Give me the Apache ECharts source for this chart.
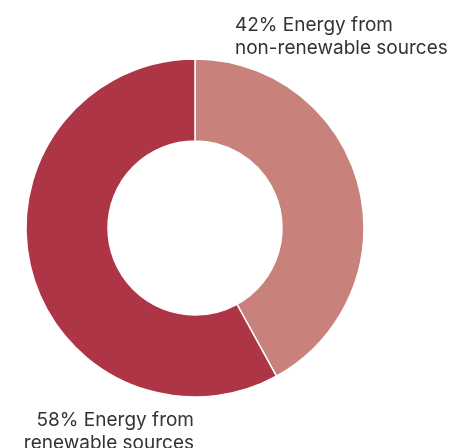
<!DOCTYPE html>
<html><head><meta charset="utf-8">
<script src="https://cdn.jsdelivr.net/npm/echarts@6/dist/echarts.min.js"></script>
<style>html,body{margin:0;padding:0;background:#fff}#c{width:451px;height:448px}</style>
</head><body><div id="c"></div>
<script>
const categories = ["Energy from non-renewable sources", "Energy from renewable sources"];
const labelLines = [["Energy from", "non-renewable sources"], ["Energy from", "renewable sources"]];
const values = [42, 58];
const colors = ["#c9827b", "#ae3546"];

const chart = echarts.init(document.getElementById('c'), null, {renderer: 'canvas'});
const textStyleBase = {fontFamily: 'Inter', fontSize: 19, fill: '#333333', lineHeight: 23};
chart.setOption({
  animation: false,
  series: [{
    type: 'pie',
    center: [195, 228],
    radius: [87, 169],
    startAngle: 90,
    clockwise: true,
    label: {show: false},
    labelLine: {show: false},
    silent: true,
    itemStyle: {borderColor: '#ffffff', borderWidth: 1.5},
    data: categories.map((c, i) => ({name: c, value: values[i], itemStyle: {color: colors[i]}}))
  }],
  graphic: [
    {type: 'text', left: 235, top: 14,
     style: Object.assign({}, textStyleBase, {text: values[0] + '% ' + labelLines[0][0] + '\n' + labelLines[0][1], textAlign: 'left'})},
    {type: 'text', right: 257, top: 409,
     style: Object.assign({}, textStyleBase, {text: values[1] + '% ' + labelLines[1][0] + '\n' + labelLines[1][1], textAlign: 'right'})}
  ]
});
</script></body></html>
